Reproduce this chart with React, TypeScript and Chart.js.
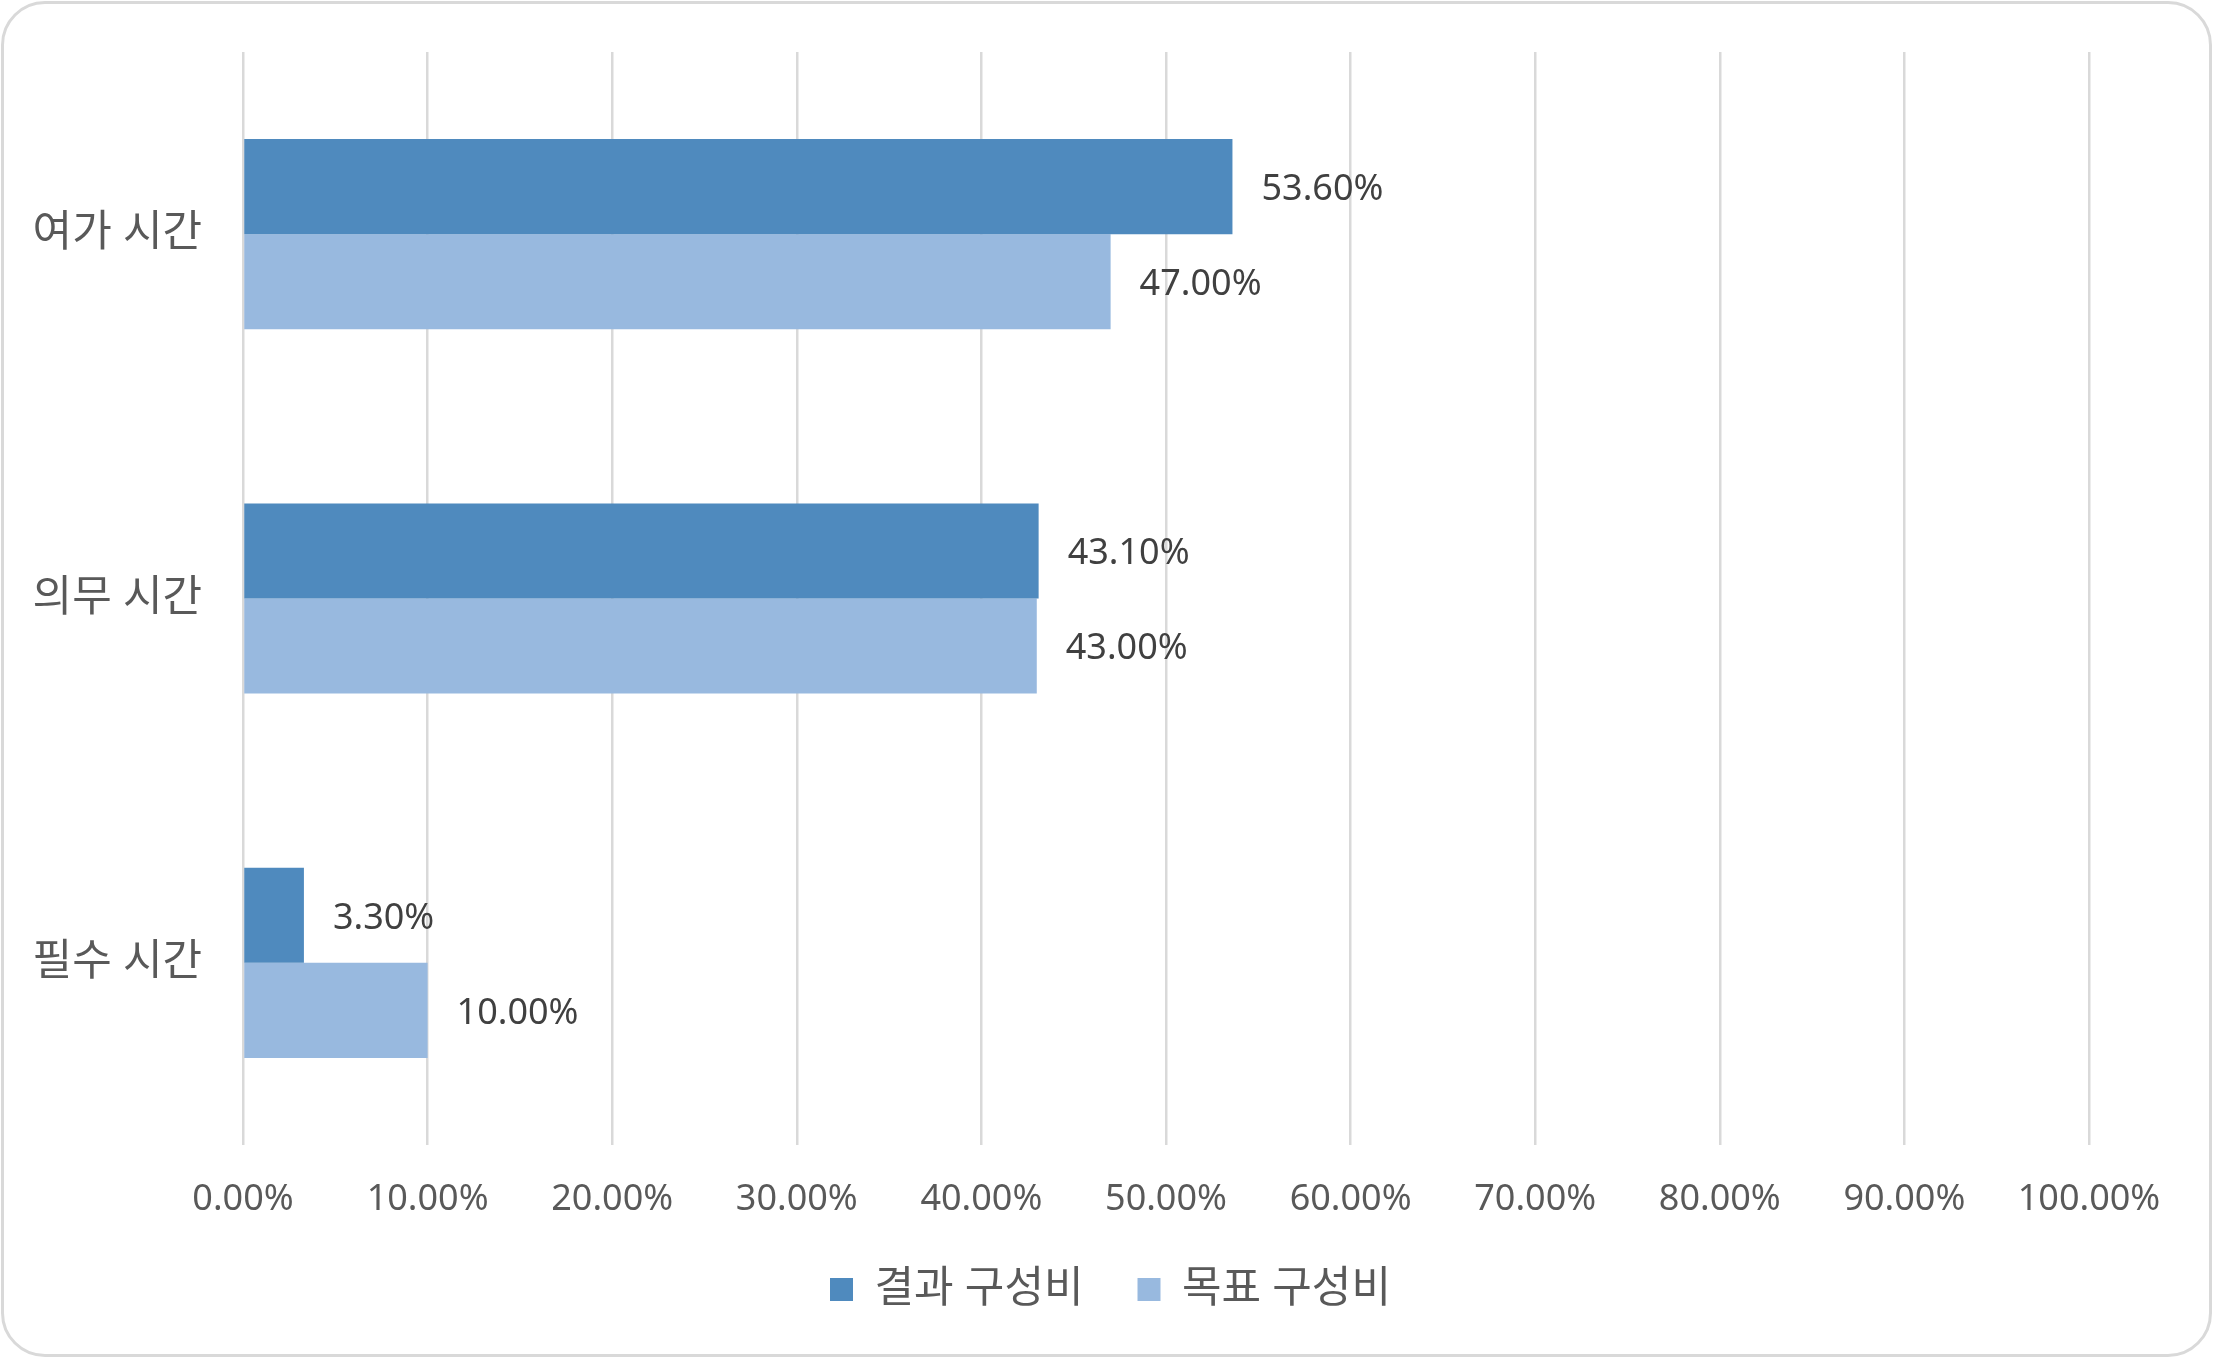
import React, { useEffect, useRef } from 'react';
import { Chart, registerables } from 'chart.js';

Chart.register(...registerables);

const categories = ['여가 시간', '의무 시간', '필수 시간'];
const seriesNames = ['결과 구성비', '목표 구성비'];
const resultShare = [53.6, 43.1, 3.3];
const targetShare = [47.0, 43.0, 10.0];
const seriesColors = ['#4f8abe', '#98b9df'];
const xMin = 0;
const xMax = 100;
const xStep = 10;

const FONT = '"Noto Sans", "Noto Sans CJK KR", sans-serif';

const dataLabelPlugin = {
  id: 'barValueLabels',
  afterDatasetsDraw(chart: any) {
    const ctx = chart.ctx;
    ctx.save();
    ctx.font = `36px ${FONT}`;
    ctx.fillStyle = '#404040';
    ctx.textAlign = 'left';
    ctx.textBaseline = 'middle';
    chart.data.datasets.forEach((ds: any, i: number) => {
      const meta = chart.getDatasetMeta(i);
      meta.data.forEach((el: any, j: number) => {
        const v = ds.data[j] as number;
        ctx.fillText(v.toFixed(2) + '%', el.x + 29, el.y + 3);
      });
    });
    ctx.restore();
  },
};

const legendShiftPlugin = {
  id: 'legendShift',
  afterLayout(chart: any) {
    const lg = chart.legend;
    if (lg) {
      lg.left += 66;
      lg.right += 66;
    }
  },
};

export default function App() {
  const canvasRef = useRef<HTMLCanvasElement | null>(null);

  useEffect(() => {
    const canvas = canvasRef.current;
    if (!canvas) return;
    const chart = new Chart(canvas, {
      type: 'bar',
      data: {
        labels: categories,
        datasets: [
          {
            label: seriesNames[0],
            data: resultShare,
            backgroundColor: seriesColors[0],
            borderWidth: 0,
            categoryPercentage: 0.522,
            barPercentage: 1,
          },
          {
            label: seriesNames[1],
            data: targetShare,
            backgroundColor: seriesColors[1],
            borderWidth: 0,
            categoryPercentage: 0.522,
            barPercentage: 1,
          },
        ],
      },
      options: {
        indexAxis: 'y',
        animation: false,
        responsive: false,
        devicePixelRatio: 1,
        layout: { padding: { left: 0, right: 124, top: 52, bottom: 37 } },
        scales: {
          x: {
            min: xMin,
            max: xMax,
            ticks: {
              stepSize: xStep,
              padding: 33,
              color: '#595959',
              font: { family: FONT, size: 36 },
              callback: (v: any) => Number(v).toFixed(2) + '%',
            },
            grid: { color: '#d9d9d9', lineWidth: 2.5, drawTicks: false },
            border: { display: false },
            afterFit: (scale: any) => {
              scale.height = 69;
            },
          },
          y: {
            ticks: {
              padding: 41,
              color: '#595959',
              font: { family: FONT, size: 43 },
            },
            grid: { display: false, drawTicks: false },
            border: { display: false },
            afterFit: (scale: any) => {
              scale.width = 243;
              scale.paddingTop = 0;
              scale.paddingBottom = 0;
            },
          },
        },
        plugins: {
          legend: {
            position: 'bottom',
            labels: {
              boxWidth: 23,
              boxHeight: 23,
              padding: 54,
              color: '#595959',
              font: { family: FONT, size: 43 },
            },
          },
          tooltip: { enabled: false },
        },
      } as any,
      plugins: [dataLabelPlugin, legendShiftPlugin],
    });
    return () => chart.destroy();
  }, []);

  return (
    <div
      style={{
        position: 'fixed',
        left: 0,
        top: 0,
        width: 2213,
        height: 1358,
        background: '#ffffff',
      }}
    >
      <canvas
        ref={canvasRef}
        width={2213}
        height={1358}
        style={{ position: 'absolute', left: 0, top: 0, width: 2213, height: 1358 }}
      />
      <div
        style={{
          position: 'absolute',
          left: 1,
          top: 1,
          width: 2211,
          height: 1356,
          boxSizing: 'border-box',
          border: '3px solid #d9d9d9',
          borderRadius: 44,
          pointerEvents: 'none',
        }}
      />
    </div>
  );
}
